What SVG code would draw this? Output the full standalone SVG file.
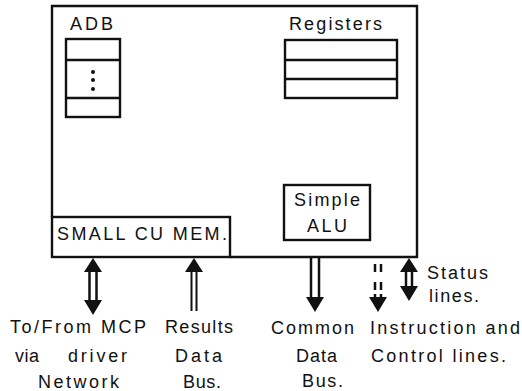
<svg xmlns="http://www.w3.org/2000/svg" width="522" height="391" viewBox="0 0 522 391">
<style>
.b{fill:none;stroke:#111;stroke-width:2.4}
.s{fill:none;stroke:#111;stroke-width:2.5}
.t{fill:none;stroke:#111;stroke-width:2}
.h{fill:#111;stroke:none}
text{font-family:"Liberation Sans",Arial,sans-serif;font-size:18px;fill:#111}
</style>
<rect width="522" height="391" fill="#fff"/>
<g id="cpu"><path class="b" d="M52 217V6H417V257H230"/></g>
<g id="adb"><text x="70" y="30" textLength="43">ADB</text><rect class="b" x="66" y="39" width="54" height="78"/><path class="b" d="M66 60H120M66 98H120"/><circle class="h" cx="93" cy="72" r="2"/><circle class="h" cx="93" cy="80" r="2"/><circle class="h" cx="93" cy="89" r="2"/></g>
<g id="registers"><text x="289" y="30" textLength="93">Registers</text><rect class="b" x="285" y="40" width="112" height="58"/><path class="b" d="M285 60H397M285 79H397"/></g>
<g id="alu"><rect class="b" x="284" y="185" width="86" height="55"/><text x="294" y="206" textLength="66">Simple</text><text x="307" y="232" textLength="40">ALU</text></g>
<g id="mem"><rect class="b" x="52" y="217" width="178" height="40"/><text x="57" y="240" textLength="170">SMALL CU MEM.</text></g>
<g id="connectors">
<path class="s" d="M89.500 270V302M96.500 270V302"/><path class="h" d="M93 258L102 272H84ZM93 315L84 300H102Z"/>
<path class="t" d="M191.500 270V311M196.500 270V311"/><path class="h" d="M194 258L203 272H185Z"/>
<path class="s" d="M311 258V299M319 258V299"/><path class="h" d="M306 297H324L315 312Z"/>
<path class="s" d="M375 264V272M381 264V272M375 282V290M381 282V290M375 294V298M381 294V298"/><path class="h" d="M369 297H387L378 312Z"/>
<path class="s" d="M406 270V288M412 270V288"/><path class="h" d="M409 258L418 272H400ZM409 301L400 286H418Z"/>
</g>
<g id="labels">
<text x="10" y="333" textLength="136">To/From MCP</text>
<text y="362"><tspan x="15" textLength="24">via</tspan><tspan x="68" textLength="59">driver</tspan></text>
<text x="38" y="388" textLength="81">Network</text>
<text x="165" y="333" textLength="68">Results</text><text x="175" y="362" textLength="47">Data</text><text x="183" y="388" textLength="38">Bus.</text>
<text x="271" y="334" textLength="83">Common</text><text x="296" y="362" textLength="41">Data</text><text x="302" y="387" textLength="41">Bus.</text>
<text x="370" y="334" textLength="150">Instruction and</text><text x="371" y="362" textLength="135">Control lines.</text>
<text x="427" y="279" textLength="61">Status</text><text x="429" y="302" textLength="50">lines.</text>
</g>
</svg>
